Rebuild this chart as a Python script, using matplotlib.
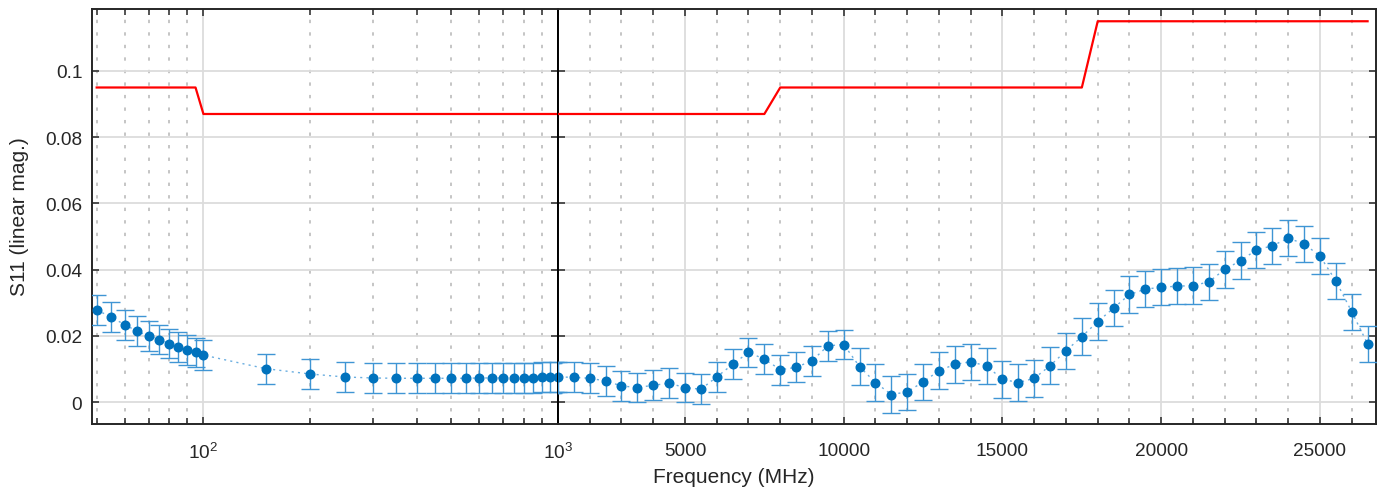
import matplotlib
matplotlib.use("Agg")
import matplotlib.pyplot as plt
from matplotlib.ticker import LogLocator, NullFormatter, MultipleLocator

plt.rcParams['font.family'] = ['Liberation Sans', 'DejaVu Sans']
plt.rcParams['mathtext.default'] = 'regular'

# measured frequencies (MHz)
freq = [50, 55, 60, 65, 70, 75, 80, 85, 90, 95, 100,
        150, 200, 250, 300, 350, 400, 450, 500, 550, 600, 650, 700, 750,
        800, 850, 900, 950, 1000,
        1500, 2000, 2500, 3000, 3500, 4000, 4500, 5000, 5500, 6000, 6500,
        7000, 7500, 8000, 8500, 9000, 9500, 10000, 10500, 11000, 11500,
        12000, 12500, 13000, 13500, 14000, 14500, 15000, 15500, 16000,
        16500, 17000, 17500, 18000, 18500, 19000, 19500, 20000, 20500,
        21000, 21500, 22000, 22500, 23000, 23500, 24000, 24500, 25000,
        25500, 26000, 26500]

# S11 linear magnitude
s11 = [0.0279, 0.0256, 0.0234, 0.0214, 0.0200, 0.0189, 0.0177, 0.0167, 0.0157, 0.0150, 0.0142,
       0.0101, 0.0085, 0.0076, 0.0073, 0.0072, 0.0072, 0.0072, 0.0072, 0.0072, 0.0073, 0.0073,
       0.0073, 0.0074, 0.0074, 0.0074, 0.0075, 0.0075, 0.0076,
       0.0075, 0.0072, 0.0064, 0.0049, 0.0044, 0.0051, 0.0057, 0.0044, 0.0039, 0.0076, 0.0114,
       0.0150, 0.0130, 0.0098, 0.0105, 0.0125, 0.0170, 0.0174, 0.0107, 0.0059, 0.0023,
       0.0031, 0.0061, 0.0095, 0.0114, 0.0122, 0.0109, 0.0069, 0.0059, 0.0072,
       0.0110, 0.0155, 0.0198, 0.0243, 0.0284, 0.0325, 0.0341, 0.0347, 0.0350,
       0.0352, 0.0363, 0.0401, 0.0427, 0.0460, 0.0472, 0.0495, 0.0478, 0.0441,
       0.0366, 0.0273, 0.0176]

# measurement uncertainty
s11_err = [0.0045] * 47 + [0.0055] * 33

# spec limit line
limit_freq = [50, 95, 100, 7500, 8000, 17500, 18000, 26500]
limit_val = [0.095, 0.095, 0.087, 0.087, 0.095, 0.095, 0.115, 0.115]

y_ticks = [0, 0.02, 0.04, 0.06, 0.08, 0.1]
y_ticklabels = ['0', '0.02', '0.04', '0.06', '0.08', '0.1']
lo_ticks = [100, 1000]
lo_ticklabels = ['$10^2$', '$10^3$']
hi_ticks = [5000, 10000, 15000, 20000, 25000]
hi_ticklabels = ['5000', '10000', '15000', '20000', '25000']

BLUE = '#0072BD'
ERR_BLUE = '#3F95D4'
DARK = '#262626'

W, H = 1384, 489
fig = plt.figure(figsize=(W / 100, H / 100), dpi=100)
bottom = 1 - 425 / H
height = 415 / H
ax_lo = fig.add_axes([92 / W, bottom, (558 - 92) / W, height])
ax_hi = fig.add_axes([558 / W, bottom, (1376 - 558) / W, height], sharey=ax_lo)

for ax in (ax_lo, ax_hi):
    ax.set_axisbelow(True)
    ax.plot(freq, s11, color='#6AAEE0', ls=(0, (1.5, 3)), lw=1.0, zorder=2)
    ax.errorbar(freq, s11, yerr=s11_err, fmt='none', ecolor=ERR_BLUE,
                elinewidth=1.0, capsize=6.5, capthick=1.0, zorder=3)
    ax.plot(freq, s11, 'o', color=BLUE, ms=6.2, zorder=4)
    ax.plot(limit_freq, limit_val, color='#FF0000', lw=1.6, zorder=5)

    ax.grid(True, which='major', color='#DCDCDC', lw=1.3, ls='-')
    ax.xaxis.grid(True, which='minor', color='#B5B5B5', lw=1.1, ls=(0, (2.2, 6)))
    ax.tick_params(which='both', direction='in', top=True, right=True,
                   color=DARK, labelcolor=DARK, labelsize=13.7)
    ax.tick_params(which='major', length=5, width=1.1)
    ax.tick_params(which='minor', length=4, width=1.1)
    ax.tick_params(axis='x', pad=13)
    ax.tick_params(axis='y', pad=7)
    for sp in ax.spines.values():
        sp.set_color(DARK)
        sp.set_linewidth(1.4)

ax_lo.set_xscale('log')
ax_lo.set_xlim(48.5, 1000)
ax_lo.set_xticks(lo_ticks)
ax_lo.set_xticklabels(lo_ticklabels)
ax_lo.xaxis.set_minor_locator(LogLocator(base=10, subs=[2, 3, 4, 5, 6, 7, 8, 9]))
ax_lo.xaxis.set_minor_formatter(NullFormatter())
ax_lo.spines['right'].set_color('black')

ax_hi.set_xlim(1000, 26765)
ax_hi.set_xticks(hi_ticks)
ax_hi.set_xticklabels(hi_ticklabels)
ax_hi.xaxis.set_minor_locator(MultipleLocator(1000))
ax_hi.tick_params(labelleft=False)
ax_hi.spines['left'].set_color('black')

ax_lo.set_ylim(-0.0066, 0.1187)
ax_lo.set_yticks(y_ticks)
ax_lo.set_yticklabels(y_ticklabels)

fig.text(20 / W, 1 - 217 / H, 'S11 (linear mag.)', rotation=90,
         ha='center', va='center', fontsize=15, color=DARK)
fig.text(734 / W, 1 - 478 / H, 'Frequency (MHz)', ha='center', va='center',
         fontsize=15, color=DARK)

fig.savefig('out.png', dpi=100)
